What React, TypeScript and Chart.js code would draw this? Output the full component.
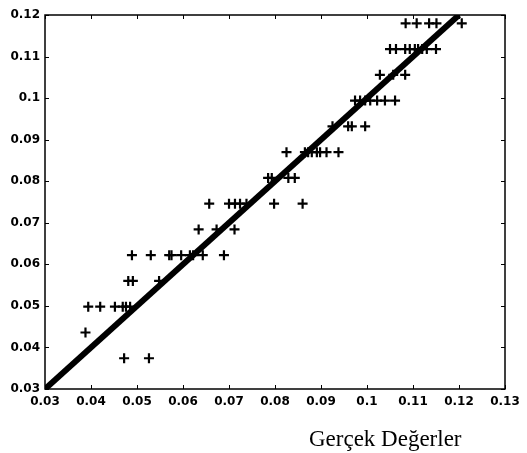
import React, { useEffect, useRef } from "react";
import { Chart, registerables } from "chart.js";
Chart.register(...registerables);

const actualValues = [
  0.0472, 0.0526,
  0.0388,
  0.0394, 0.042, 0.0452, 0.0469, 0.0476, 0.0485,
  0.0481, 0.0491, 0.0548,
  0.0489, 0.053, 0.057, 0.0575, 0.0596, 0.0615, 0.0622, 0.0643, 0.0689,
  0.0634, 0.0673, 0.0712,
  0.0657, 0.07, 0.0713, 0.0724, 0.0738, 0.0798, 0.086,
  0.0785, 0.0793, 0.0829, 0.0843,
  0.0825, 0.0865, 0.0872, 0.088, 0.0891, 0.0898, 0.0912, 0.0938,
  0.0925, 0.0959, 0.0967, 0.0996,
  0.0974, 0.0985, 0.0996, 0.1007, 0.1022, 0.1039, 0.1061,
  0.1028, 0.1057, 0.1083,
  0.105, 0.1063, 0.1083, 0.1093, 0.1104, 0.1111, 0.112, 0.113, 0.115,
  0.1084, 0.1108, 0.1135, 0.1151, 0.1206,
];
const predictedValues = [
  0.0374, 0.0374,
  0.0436,
  0.0498, 0.0498, 0.0498, 0.0498, 0.0498, 0.0498,
  0.056, 0.056, 0.056,
  0.0622, 0.0622, 0.0622, 0.0622, 0.0622, 0.0622, 0.0622, 0.0622, 0.0622,
  0.0684, 0.0684, 0.0684,
  0.0746, 0.0746, 0.0746, 0.0746, 0.0746, 0.0746, 0.0746,
  0.0808, 0.0808, 0.0808, 0.0808,
  0.087, 0.087, 0.087, 0.087, 0.087, 0.087, 0.087, 0.087,
  0.0932, 0.0932, 0.0932, 0.0932,
  0.0994, 0.0994, 0.0994, 0.0994, 0.0994, 0.0994, 0.0994,
  0.1056, 0.1056, 0.1056,
  0.1118, 0.1118, 0.1118, 0.1118, 0.1118, 0.1118, 0.1118, 0.1118, 0.1118,
  0.118, 0.118, 0.118, 0.118, 0.118,
];

// Ideal fit line endpoints
const fitX = [0.03, 0.12];
const fitY = [0.03, 0.12];

const xTickValues = [0.03, 0.04, 0.05, 0.06, 0.07, 0.08, 0.09, 0.1, 0.11, 0.12, 0.13];
const xTickLabels = ["0.03", "0.04", "0.05", "0.06", "0.07", "0.08", "0.09", "0.1", "0.11", "0.12", "0.13"];
const yTickValues = [0.03, 0.04, 0.05, 0.06, 0.07, 0.08, 0.09, 0.1, 0.11, 0.12];
const yTickLabels = ["0.03", "0.04", "0.05", "0.06", "0.07", "0.08", "0.09", "0.1", "0.11", "0.12"];

const xAxisTitle = "Gerçek Değerler";

const frameAndTicks = {
  id: "frameAndTicks",
  afterDraw(chart: any) {
    const { ctx, chartArea } = chart;
    const { left, right, top, bottom } = chartArea;
    const xs = chart.scales.x;
    const ys = chart.scales.y;
    ctx.save();
    ctx.strokeStyle = "#000";
    ctx.lineWidth = 1.5;
    ctx.strokeRect(left, top, right - left, bottom - top);
    ctx.lineWidth = 1;
    const len = 4;
    xTickValues.forEach((v) => {
      const px = Math.round(xs.getPixelForValue(v)) + 0.5;
      ctx.beginPath();
      ctx.moveTo(px, bottom);
      ctx.lineTo(px, bottom - len);
      ctx.moveTo(px, top);
      ctx.lineTo(px, top + len);
      ctx.stroke();
    });
    yTickValues.forEach((v) => {
      const py = Math.round(ys.getPixelForValue(v)) + 0.5;
      ctx.beginPath();
      ctx.moveTo(left, py);
      ctx.lineTo(left + len, py);
      ctx.moveTo(right, py);
      ctx.lineTo(right - len, py);
      ctx.stroke();
    });
    // axis title (offset to the right as in the reference)
    ctx.fillStyle = "#000";
    ctx.font = "23px 'Liberation Serif', 'DejaVu Serif', serif";
    ctx.textAlign = "center";
    ctx.textBaseline = "alphabetic";
    ctx.fillText(xAxisTitle, chart.width * 0.731, 446);
    ctx.restore();
  },
};

export default function App() {
  const ref = useRef<HTMLCanvasElement | null>(null);
  useEffect(() => {
    document.body.style.margin = "0";
    if (!ref.current) return;
    const tickFont = { family: "'DejaVu Sans', sans-serif", size: 12, weight: "bold" as const };
    const chart = new Chart(ref.current, {
      type: "scatter",
      data: {
        datasets: [
          {
            label: "fit",
            data: fitX.map((x, i) => ({ x, y: fitY[i] })),
            showLine: true,
            borderColor: "#000",
            borderWidth: 6,
            pointRadius: 0,
            order: 0,
          } as any,
          {
            label: "points",
            data: actualValues.map((x, i) => ({ x, y: predictedValues[i] })),
            pointStyle: "cross",
            pointRadius: 5,
            borderColor: "#000",
            backgroundColor: "#000",
            borderWidth: 2.2,
            order: 1,
          } as any,
        ],
      },
      options: {
        responsive: false,
        animation: false,
        layout: { padding: { left: 0, right: 22, top: 15, bottom: 44 } },
        plugins: { legend: { display: false }, tooltip: { enabled: false }, title: { display: false } },
        scales: {
          x: {
            type: "linear",
            min: 0.03,
            max: 0.13,
            grid: { display: false, drawTicks: false },
            border: { display: false },
            afterBuildTicks: (s: any) => {
              s.ticks = xTickValues.map((v) => ({ value: v }));
            },
            afterFit: (s: any) => {
              s.height = 20;
            },
            ticks: {
              color: "#000",
              font: tickFont,
              padding: 6,
              maxRotation: 0,
              autoSkip: false,
              callback: (v: any) => {
                const i = xTickValues.findIndex((t) => Math.abs(t - v) < 1e-9);
                return i >= 0 ? xTickLabels[i] : "";
              },
            },
          },
          y: {
            type: "linear",
            min: 0.03,
            max: 0.12,
            grid: { display: false, drawTicks: false },
            border: { display: false },
            afterBuildTicks: (s: any) => {
              s.ticks = yTickValues.map((v) => ({ value: v }));
            },
            afterFit: (s: any) => {
              s.width = 45;
            },
            ticks: {
              color: "#000",
              font: tickFont,
              padding: 5,
              autoSkip: false,
              callback: (v: any) => {
                const i = yTickValues.findIndex((t) => Math.abs(t - v) < 1e-9);
                return i >= 0 ? yTickLabels[i] : "";
              },
            },
          },
        },
      } as any,
      plugins: [frameAndTicks],
    });
    return () => chart.destroy();
  }, []);
  return (
    <div style={{ position: "absolute", left: 0, top: 0, width: 527, height: 453, background: "#fff" }}>
      <canvas ref={ref} width={527} height={453} style={{ width: 527, height: 453 }} />
    </div>
  );
}
